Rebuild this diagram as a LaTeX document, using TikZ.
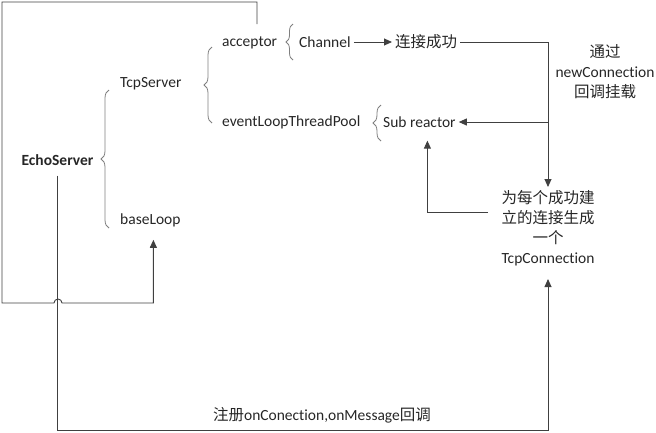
\documentclass[tikz,border=0pt]{standalone}
\usepackage{fontspec}
\setmainfont{Carlito}[Ligatures=NoCommon]
\newfontfamily\cjk{Noto Sans CJK SC}
\usetikzlibrary{arrows.meta,decorations.pathreplacing,positioning}
\definecolor{linegray}{HTML}{404040}
\definecolor{bracegray}{HTML}{7F7F7F}

\begin{document}
\begin{tikzpicture}[
        x=1pt, y=-1pt,
        >={Triangle[length=8pt,width=7pt]},
        every node/.style={inner sep=3pt, font=\fontsize{15.5}{20}\selectfont, text=black!85},
        link/.style={draw=linegray, line width=0.9pt},
        curly/.style={draw=bracegray, line width=0.8pt, decorate, decoration={brace, amplitude=#1}},
        curly/.default=8pt
        ]
    \useasboundingbox (0,0) rectangle (656,432);

        % Nodes
        \node[font=\fontsize{15.5}{20}\selectfont\bfseries] (echo) at (57.5,160) {EchoServer};
        \node[anchor=west] (tcp) at (117,84) {TcpServer};
        \node[anchor=west] (base) at (117,220) {baseLoop};
        \node[anchor=west] (acc) at (219,43) {acceptor};
        \node[anchor=west] (pool) at (219,122) {eventLoopThreadPool};
        \node[anchor=west] (chan) at (296,42) {Channel};
        \node[anchor=west] (ok) at (392,42) {\cjk 连接成功};
        \node[anchor=west] (sub) at (380,122) {Sub reactor};
        \node[align=center] (via) at (605,72) {{\cjk 通过}\\newConnection\\{\cjk 回调挂载}};
        \node[anchor=north, align=center] (conn) at (548,187)
            {{\cjk 为每个成功建}\\{\cjk 立的连接生成}\\{\cjk 一个}\\TcpConnection};
        \node (reg) at (322,415) {{\cjk 注册}onConection,onMessage{\cjk 回调}};

        \coordinate (top) at (257,24);
        \coordinate (fb) at (488,212);

        % Braces
        \draw[curly] (109,228) -- (109,90);
        \draw[curly] (212,123) -- (212,47);
        \draw[curly=7pt] (293,60) -- (293,24);
        \draw[curly] (381,141) -- (381,105);

        % Edges
        \draw[link,->] (chan) -- (ok);
        \draw[link,->] (ok.east) -| (conn.north);
        \draw[link,->] (sub.east -| conn.north) -- (sub.east);
        \draw[link,->] (fb) -| ([xshift=8pt,yshift=-10pt]sub.south);
        \draw[link,->] ([yshift=-7pt]echo.south) -- (echo.south |- 0,430) -| ([yshift=-10pt]conn.south);
        \draw[link,->] (top) -- (257,2) -- (2,2) -- (2,303) -- (54,303)
            arc[start angle=180, end angle=0, radius=4pt] -- ([xshift=3pt]base.south |- 0,303)
            -- ([xshift=3pt,yshift=-10pt]base.south);

    \end{tikzpicture}
\end{document}
